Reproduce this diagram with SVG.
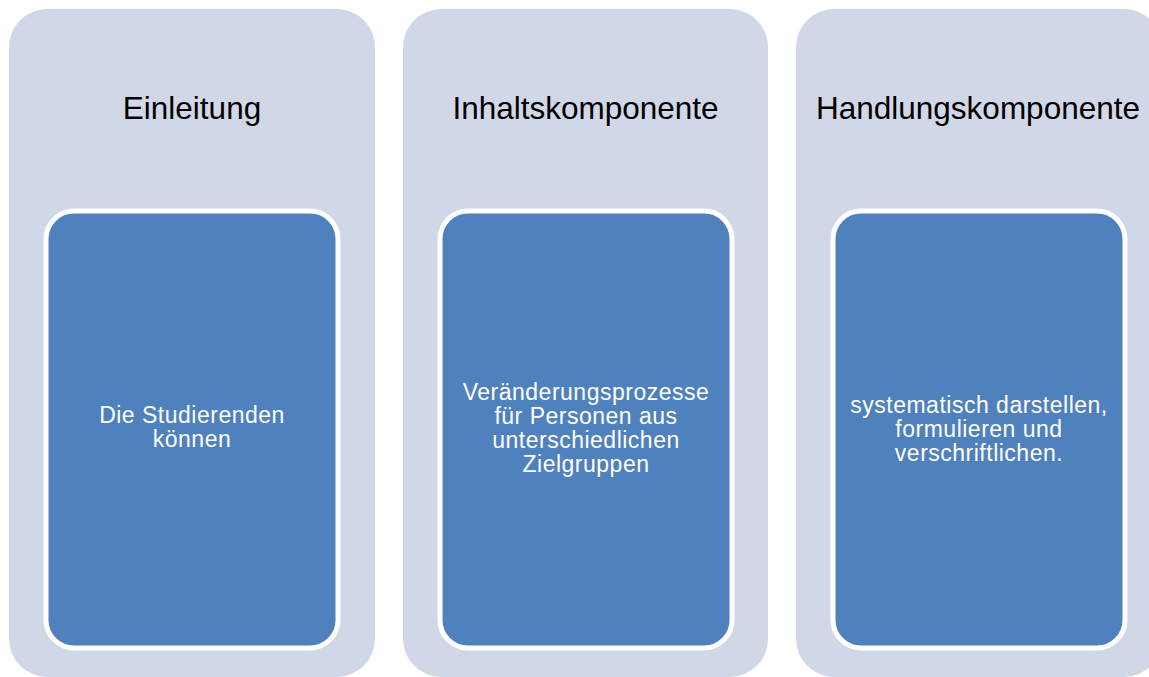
<svg xmlns="http://www.w3.org/2000/svg" width="1149" height="677" viewBox="0 0 1149 677">
<style>
.outer{fill:#D0D7E6;}
.inner{fill:#4F81BD;stroke:#FFFFFF;stroke-width:5;}
.title{font-family:"Liberation Sans",Arial,sans-serif;font-size:31.5px;fill:#000000;text-anchor:middle;}
.body{font-family:"Liberation Sans",Arial,sans-serif;font-size:23px;letter-spacing:0.5px;fill:#FFFFFF;text-anchor:middle;}
</style>
<rect width="1149" height="677" fill="#FFFFFF"/>
<g id="col1">
<rect class="outer" x="9" y="9" width="366" height="668" rx="38" ry="38"/>
<text class="title" x="192" y="119">Einleitung</text>
<g id="box1">
<rect class="inner" x="46" y="211" width="292" height="437" rx="28" ry="28"/>
<text class="body" x="192" y="423">Die Studierenden</text>
<text class="body" x="192" y="447">können</text>
</g>
</g>
<g id="col2">
<rect class="outer" x="403" y="9" width="365" height="668" rx="38" ry="38"/>
<text class="title" x="585.5" y="119">Inhaltskomponente</text>
<g id="box2">
<rect class="inner" x="440" y="211" width="292" height="437" rx="28" ry="28"/>
<text class="body" x="586" y="400">Veränderungsprozesse</text>
<text class="body" x="586" y="424">für Personen aus</text>
<text class="body" x="586" y="448">unterschiedlichen</text>
<text class="body" x="586" y="472">Zielgruppen</text>
</g>
</g>
<g id="col3">
<rect class="outer" x="796" y="9" width="366" height="668" rx="38" ry="38"/>
<text class="title" x="978" y="119">Handlungskomponente</text>
<g id="box3">
<rect class="inner" x="833" y="211" width="292" height="437" rx="28" ry="28"/>
<text class="body" x="979" y="413">systematisch darstellen,</text>
<text class="body" x="979" y="437">formulieren und</text>
<text class="body" x="979" y="461">verschriftlichen.</text>
</g>
</g>
</svg>
